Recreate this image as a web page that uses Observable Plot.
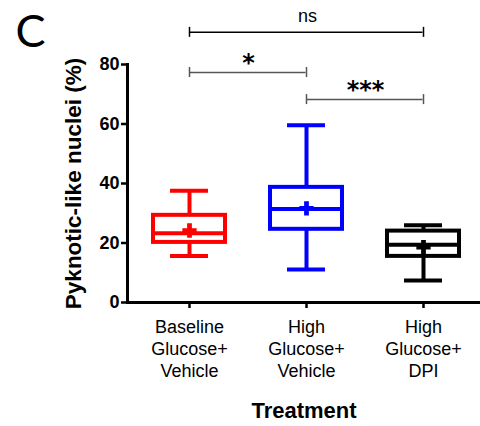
<!DOCTYPE html>
<html><head><meta charset="utf-8">
<script src="https://cdn.jsdelivr.net/npm/d3@7"></script>
<script src="https://cdn.jsdelivr.net/npm/@observablehq/plot@0.6"></script>
<style>body{margin:0;background:#fff;} svg{font-family:"Liberation Sans",Arial,sans-serif;}</style>
</head><body><div id="chart"></div>
<script>
// ---- data ----
const groups = ["Baseline Glucose+ Vehicle", "High Glucose+ Vehicle", "High Glucose+ DPI"];
const tickLabels = ["Baseline\nGlucose+\nVehicle", "High\nGlucose+\nVehicle", "High\nGlucose+\nDPI"];
const groupColors = ["#ff0000", "#0000ff", "#000000"];
const minValues = [15.6, 11.1, 7.4];
const q1Values = [20.2, 24.6, 15.5];
const medianValues = [23.3, 31.4, 19.4];
const q3Values = [29.3, 38.7, 24.0];
const maxValues = [37.6, 59.6, 26.0];
const meanValues = [24.2, 31.6, 18.6];
const yTicks = [0, 20, 40, 60, 80];
const compLabels = ["*", "***", "ns"];
const compFrom = [0, 1, 0];
const compTo = [1, 2, 2];
const compLevel = [77.3, 68.2, 90.8];
const yTitle = "Pyknotic-like nuclei (%)";
const xTitle = "Treatment";
const panelLabel = "C";

// ---- tables ----
const rows = groups.map((g, i) => ({
  group: g, color: groupColors[i], min: minValues[i], q1: q1Values[i],
  median: medianValues[i], q3: q3Values[i], max: maxValues[i], mean: meanValues[i]
}));
const comps = compLabels.map((l, i) => ({
  label: l, a: groups[compFrom[i]], b: groups[compTo[i]], level: compLevel[i], span: compTo[i] - compFrom[i],
  color: l === "ns" ? "#000" : "#555"
}));

const xRange = [151.5, 460.5];
const padInner = 0.381;
const band = d3.scaleBand(groups, xRange).paddingInner(padInner).paddingOuter(0);
const step = band.step(), bw = band.bandwidth();
const capInset = (bw - 39) / 2;

const marks = [
  Plot.ruleY([0], {strokeWidth: 3}),
  Plot.frame({anchor: "left", strokeWidth: 3}),
  Plot.axisY({ticks: yTicks, tickSize: 6, tickPadding: 2, fontSize: 18, fontWeight: "bold", strokeWidth: 2.5, label: null, anchor: "left"}),
  Plot.axisX({tickSize: 6, tickPadding: 9, fontSize: 18, lineHeight: 1.22, strokeWidth: 2.5, label: null,
    tickFormat: d => tickLabels[groups.indexOf(d)]}),
  Plot.ruleX(rows, {x: "group", y1: "min", y2: "max", stroke: "color", strokeWidth: 4}),
  Plot.tickY(rows, {x: "group", y: "min", stroke: "color", strokeWidth: 4, insetLeft: capInset, insetRight: capInset}),
  Plot.tickY(rows, {x: "group", y: "max", stroke: "color", strokeWidth: 4, insetLeft: capInset, insetRight: capInset}),
  Plot.barY(rows, {x: "group", y1: "q1", y2: "q3", fill: "white", stroke: "color", strokeWidth: 4}),
  Plot.tickY(rows, {x: "group", y: "median", stroke: "color", strokeWidth: 4, insetLeft: -2, insetRight: -2}),
  Plot.dot(rows, {x: "group", y: "mean", symbol: "cross", fill: "color", r: 6}),
  Plot.ruleY(comps, {x1: "a", x2: "b", y: "level", stroke: "color", strokeWidth: 1.5, insetLeft: bw / 2, insetRight: bw / 2}),
  Plot.ruleX(comps, {x: "a", y1: "level", y2: "level", stroke: "color", strokeWidth: 1.5, insetTop: -5, insetBottom: -5}),
  Plot.ruleX(comps, {x: "b", y1: "level", y2: "level", stroke: "color", strokeWidth: 1.5, insetTop: -5, insetBottom: -5}),
  ...comps.map(c => Plot.text([c], {x: "a", y: "level", text: "label", dx: c.span * step / 2,
    dy: c.label === "ns" ? -16 : -9, lineAnchor: "middle",
    fontFamily: c.label === "ns" ? "Liberation Sans" : "DejaVu Sans",
    fontSize: c.label === "ns" ? 18 : 24, fontWeight: c.label === "ns" ? "normal" : "bold", fill: "#000"})),
  Plot.text([yTitle], {frameAnchor: "left", dx: -54, dy: 0, rotate: -90, textAnchor: "middle", lineAnchor: "middle", fontSize: 22.5, fontWeight: "bold", text: d => d}),
  Plot.text([xTitle], {frameAnchor: "bottom", dy: 108, lineAnchor: "middle", fontSize: 22, fontWeight: "bold", text: d => d}),
  Plot.text([panelLabel], {frameAnchor: "top-left", dx: -112, dy: -49.5, lineAnchor: "top", textAnchor: "start", fontSize: 45, fontFamily: "Lato", text: d => d})
];

const chart = Plot.plot({
  width: 480, height: 426,
  marginLeft: 127, marginRight: 0, marginTop: 64, marginBottom: 124,
  x: {type: "band", domain: groups, range: xRange, paddingInner: padInner, paddingOuter: 0, align: 0.5},
  y: {domain: [0, 80], range: [302, 64]},
  style: {background: "#fff", color: "#000", overflow: "visible"},
  marks
});
document.getElementById("chart").appendChild(chart);
</script>
</body></html>
